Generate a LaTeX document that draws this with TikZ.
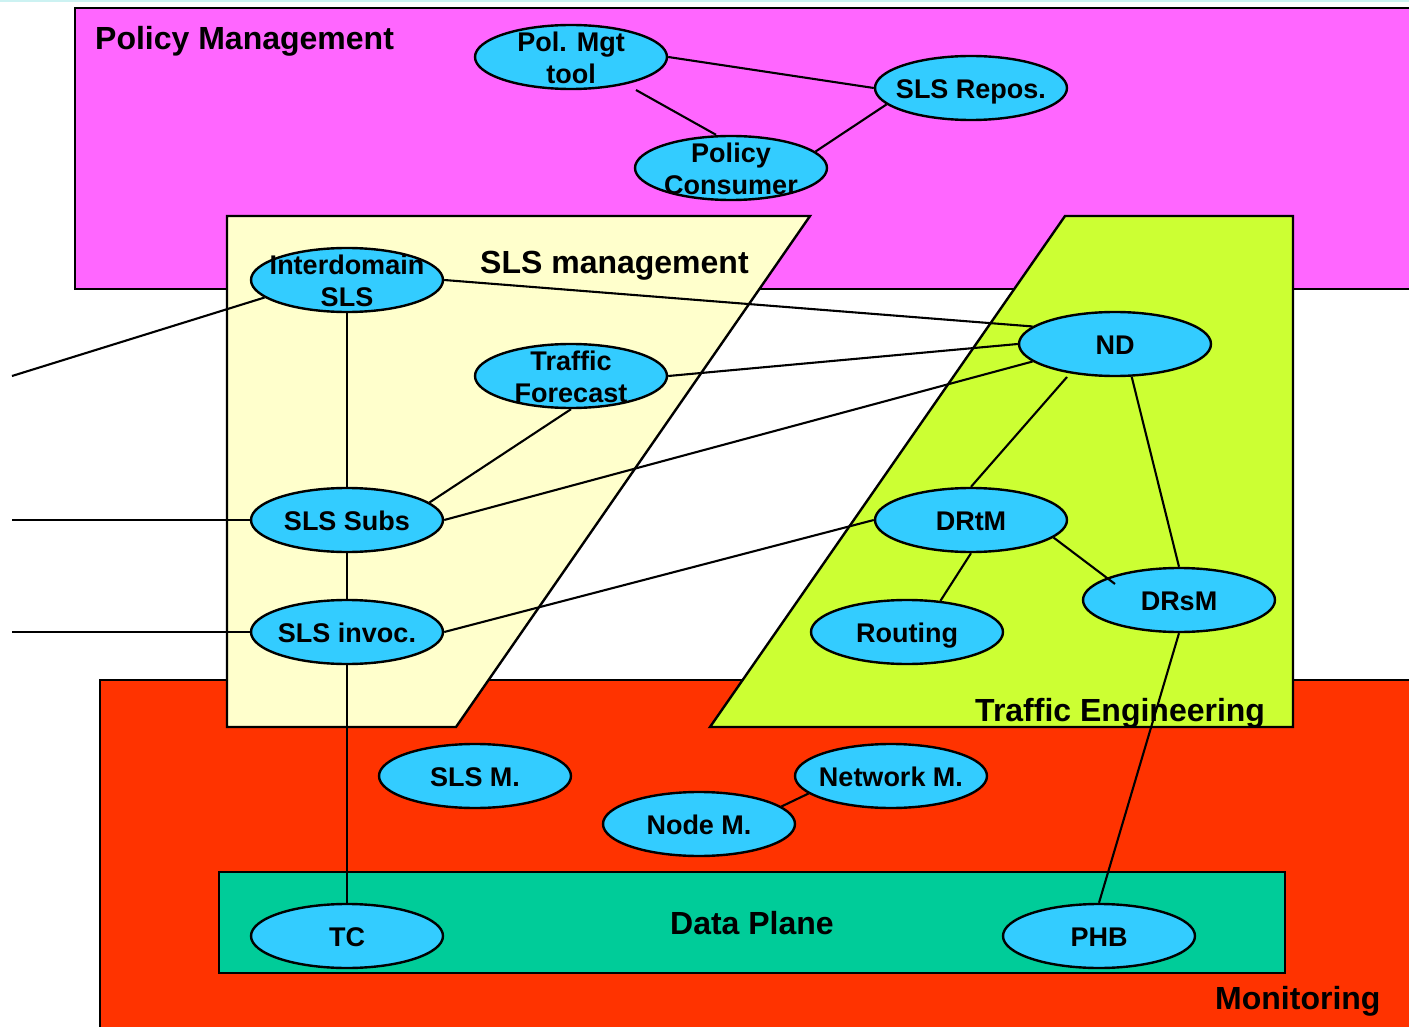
\documentclass[tikz,border=0pt]{standalone}
\usepackage{fontspec}
\setmainfont{Liberation Sans}
\usetikzlibrary{shapes.geometric,calc}

\definecolor{polpink}{RGB}{255,102,255}
\definecolor{slsyellow}{RGB}{255,255,204}
\definecolor{telime}{RGB}{204,255,51}
\definecolor{monred}{RGB}{255,51,0}
\definecolor{dpgreen}{RGB}{0,204,153}
\definecolor{nodecyan}{RGB}{51,204,255}
\definecolor{edgecyan}{RGB}{204,242,242}

\begin{document}
\begin{tikzpicture}[x=1pt,y=-1pt,
  region/.style={draw=black, line width=2.4pt},
  ell/.style={ellipse, draw=black, line width=2.4pt, fill=nodecyan,
    minimum width=192pt, minimum height=64pt, inner sep=0pt},
  ntext/.style={font=\fontsize{27}{32}\selectfont\bfseries, inner sep=0pt,
    text height=19pt, text depth=0pt, yshift=-1pt},
  upper/.style={ntext, yshift=16pt},
  lower/.style={ntext, yshift=-16pt},
  title/.style={font=\fontsize{32}{36}\selectfont\bfseries, inner sep=0pt},
  link/.style={draw=black, line width=2.1pt},
]
\useasboundingbox (0,0) rectangle (1409,1027);
\fill[white] (0,0) rectangle (1409,1027);
\fill[edgecyan] (0,0) rectangle (1409,2);

% layers
\path[region, fill=polpink] (75,8) rectangle (1430,289);
\path[region, fill=monred] (100,680) rectangle (1430,1045);
\path[region, fill=slsyellow] (227,216) -- (810,216) -- (456,727) -- (227,727) -- cycle;
\path[region, fill=telime] (1065,216) -- (1293,216) -- (1293,727) -- (710,727) -- cycle;
\path[region, fill=dpgreen] (219,872) rectangle (1285,973);

% layer titles
\node[title, anchor=base west] (tpm) at (95,49.5) {Policy Management};
\node[title, anchor=base west] (tsls) at (480,273) {SLS management};
\node[title, anchor=base west] (tte) at (975,721) {Traffic Engineering};
\node[title, anchor=base] (tdp) at (752,934) {Data Plane};
\node[title, anchor=base west] (tmon) at (1215,1009) {Monitoring};

% functional blocks
\node[ell, label={[upper]center:Pol. Mgt}, label={[lower]center:tool}] (pol) at (571,57) {};
\node[ell, label={[ntext]center:SLS Repos.}] (repos) at (971,88) {};
\node[ell, label={[upper]center:Policy}, label={[lower]center:Consumer}] (cons) at (731,168) {};
\node[ell, label={[upper]center:Interdomain}, label={[lower]center:SLS}] (inter) at (347,280) {};
\node[ell, label={[upper]center:Traffic}, label={[lower]center:Forecast}] (tf) at (571,376) {};
\node[ell, label={[ntext]center:ND}] (nd) at (1115,344) {};
\node[ell, label={[ntext]center:SLS Subs}] (subs) at (347,520) {};
\node[ell, label={[ntext]center:DRtM}] (drtm) at (971,520) {};
\node[ell, label={[ntext]center:SLS invoc.}] (invoc) at (347,632) {};
\node[ell, label={[ntext]center:Routing}] (routing) at (907,632) {};
\node[ell, label={[ntext]center:DRsM}] (drsm) at (1179,600) {};
\node[ell, label={[ntext]center:SLS M.}] (slsm) at (475,776) {};
\node[ell, label={[ntext]center:Network M.}] (netm) at (891,776) {};
\node[ell, label={[ntext]center:Node M.}] (nodem) at (699,824) {};
\node[ell, label={[ntext]center:TC}] (tc) at (347,936) {};
\node[ell, label={[ntext]center:PHB}] (phb) at (1099,936) {};

% outside ends
\coordinate (interL) at (12,376);
\coordinate (subsL) at (12,520);
\coordinate (invocL) at (12,632);

% connectors
\draw[link] (pol.east) -- (repos.west);
\draw[link] ($(pol)+(65,33)$) -- ($(cons.north)+(-15,0)$);
\draw[link] (cons.11) -- (repos.191);
\draw[link] (interL) -- (inter.192);
\draw[link] (inter.east) -- (nd.168);
\draw[link] (inter.south) -- (subs.north);
\draw[link] (tf.east) -- (nd.west);
\draw[link] (tf.south) -- (subs.12);
\draw[link] (subs.east) -- (nd.192);
\draw[link] (subsL) -- (subs.west);
\draw[link] (subs.south) -- (invoc.north);
\draw[link] (invocL) -- (invoc.west);
\draw[link] (invoc.east) -- (drtm.west);
\draw[link] (invoc.south) -- (tc.north);
\draw[link] ($(nd)+(-48,33)$) -- (drtm.north);
\draw[link] (nd.-63) -- (drsm.north);
\draw[link] (drtm.south) -- (routing.43);
\draw[link] (drtm.-12) -- ($(drsm)+(-64,-16)$);
\draw[link] (drsm.south) -- (phb.north);
\draw[link] (netm.192) -- (nodem.12);
\end{tikzpicture}
\end{document}
